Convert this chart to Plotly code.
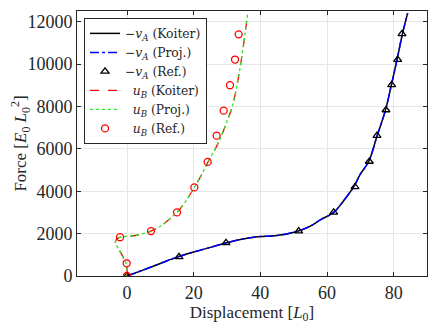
import plotly.graph_objects as go

# -v_A curve (Koiter & projection nearly coincide)
va_x = [0, 5, 10, 15, 20, 25, 29, 33, 37, 40, 45, 51, 55, 58, 62, 65, 68, 70, 72.5, 75, 77.5, 79.3, 81, 82.6, 84.2]
va_y = [0, 290, 590, 890, 1130, 1350, 1530, 1690, 1800, 1860, 1910, 2100, 2350, 2650, 3000, 3550, 4200, 4800, 5400, 6600, 7800, 9000, 10200, 11400, 12400]
va_px = va_x
va_py = va_y
# -v_A reference points
va_ref_x = [0, 15.6, 29.7, 51.5, 62, 68.4, 72.7, 75, 77.7, 79.4, 81.2, 82.5]
va_ref_y = [0, 900, 1560, 2120, 3000, 4200, 5400, 6620, 7830, 9020, 10210, 11420]

# u_B curve
ub_x = [0, 0, -0.3, -1.2, -2.4, -3.5, -3.0, -1.5, 1, 4, 7.2, 10, 12.5, 15, 17.5, 20.2, 22.3, 24.3, 26.5, 28.3, 30, 31.6, 33, 34.3, 35.4, 36.2]
ub_y = [0, 300, 600, 900, 1250, 1580, 1760, 1840, 1880, 1960, 2120, 2350, 2650, 3000, 3500, 4180, 4750, 5380, 6000, 6600, 7300, 8000, 9000, 10200, 11400, 12400]
ub_px = ub_x
ub_py = ub_y
# u_B reference points
ub_ref_x = [0, -0.1, -2.1, 7.2, 15, 20.2, 24.2, 26.9, 29, 30.9, 32.4, 33.5]
ub_ref_y = [0, 600, 1830, 2120, 3000, 4180, 5380, 6620, 7800, 9000, 10210, 11400]

fnt = "Liberation Serif"
fig = go.Figure()
fig.add_trace(go.Scatter(x=va_x, y=va_y, mode="lines", line=dict(color="black", width=1.5, shape="spline"),
                         name="\u2212<i>v</i><sub><i>A</i></sub> (Koiter)"))
fig.add_trace(go.Scatter(x=va_px, y=va_py, mode="lines", line=dict(color="blue", width=1.5, dash="dashdot", shape="spline"),
                         name="\u2212<i>v</i><sub><i>A</i></sub> (Proj.)"))
fig.add_trace(go.Scatter(x=va_ref_x, y=va_ref_y, mode="markers",
                         marker=dict(symbol="triangle-up-open", color="black", size=7, line=dict(width=1.3)),
                         name="\u2212<i>v</i><sub><i>A</i></sub> (Ref.)"))
fig.add_trace(go.Scatter(x=ub_x, y=ub_y, mode="lines", line=dict(color="red", width=1.3, dash="dash", shape="spline"),
                         name="  <i>u</i><sub><i>B</i></sub> (Koiter)"))
fig.add_trace(go.Scatter(x=ub_px, y=ub_py, mode="lines", line=dict(color="#2ee62e", width=1.3, dash="dot", shape="spline"),
                         name="  <i>u</i><sub><i>B</i></sub> (Proj.)"))
fig.add_trace(go.Scatter(x=ub_ref_x, y=ub_ref_y, mode="markers",
                         marker=dict(symbol="circle-open", color="red", size=7, line=dict(width=1.3)),
                         name="  <i>u</i><sub><i>B</i></sub> (Ref.)"))

axis_common = dict(showline=True, linecolor="#262626", linewidth=1, mirror="ticks",
                   ticks="inside", ticklen=4, tickcolor="#262626", automargin=False,
                   showgrid=True, gridcolor="#e6e6e6", gridwidth=1, zeroline=False,
                   tickfont=dict(family=fnt, size=18, color="#262626"))
fig.update_xaxes(range=[-15, 90], tickvals=[0, 20, 40, 60, 80], tickformat="d",
                 title=dict(text="Displacement [<i>L</i><sub>0</sub>]", standoff=0,
                            font=dict(family=fnt, size=17, color="#262626")),
                 **axis_common)
fig.update_yaxes(range=[0, 12500], tickvals=[0, 2000, 4000, 6000, 8000, 10000, 12000], tickformat="d",
                 title=dict(text="Force [<i>E</i><sub>0</sub> <i>L</i><sub>0</sub><sup>2</sup>]",
                            font=dict(family=fnt, size=17, color="#262626")),
                 **axis_common)
# the page body adds an 8px offset, so margins are shifted to compensate
fig.update_layout(width=436, height=327, margin=dict(l=69, r=17, t=3, b=59),
                  plot_bgcolor="white", paper_bgcolor="white",
                  font=dict(family=fnt, color="#262626"),
                  legend=dict(x=0.02, y=0.974, xanchor="left", yanchor="top",
                              bgcolor="white", bordercolor="#262626", borderwidth=1,
                              font=dict(family="DejaVu Serif", size=12.3, color="#262626"),
                              itemwidth=30, tracegroupgap=0))
fig.write_html("out.html")
